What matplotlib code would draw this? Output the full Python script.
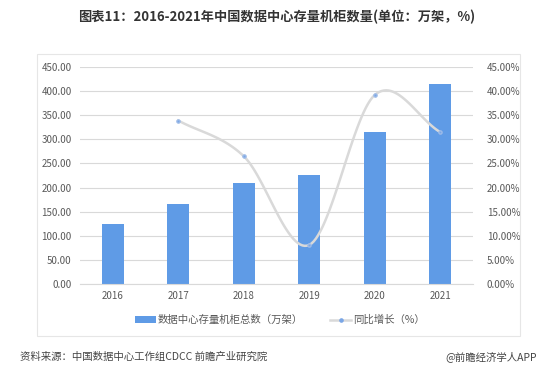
import numpy as np
import matplotlib
matplotlib.use('Agg')
import matplotlib.pyplot as plt
from matplotlib.patches import Rectangle
from matplotlib.lines import Line2D
from matplotlib.patches import Patch

plt.rcParams['font.family'] = ['Noto Sans CJK SC', 'DejaVu Sans']

# data
years = ['2016', '2017', '2018', '2019', '2020', '2021']
cabinets = [124, 166, 210, 227, 315, 415]          # 万架
growth_years = ['2017', '2018', '2019', '2020', '2021']
growth = [33.9, 26.5, 8.1, 39.2, 31.5]            # %

bar_color = '#5f9be6'
line_color = '#d9d9d9'
text_color = '#595959'


def catmull_rom(xs, ys, n=30):
    # Excel-like smoothed line through the points
    xs = np.asarray(xs, float)
    ys = np.asarray(ys, float)
    px = np.concatenate([[2 * xs[0] - xs[1]], xs, [2 * xs[-1] - xs[-2]]])
    py = np.concatenate([[2 * ys[0] - ys[1]], ys, [2 * ys[-1] - ys[-2]]])
    out_x, out_y = [], []
    for i in range(1, len(px) - 2):
        t = np.linspace(0, 1, n)
        for arr, out in ((px, out_x), (py, out_y)):
            p0, p1, p2, p3 = arr[i - 1], arr[i], arr[i + 1], arr[i + 2]
            b1 = p1 + (p2 - p0) / 6
            b2 = p2 - (p3 - p1) / 6
            out.extend((1 - t) ** 3 * p1 + 3 * (1 - t) ** 2 * t * b1
                       + 3 * (1 - t) * t ** 2 * b2 + t ** 3 * p2)
    return np.array(out_x), np.array(out_y)


fig = plt.figure(figsize=(5.54, 3.72), dpi=100)

# panel border
fig.patches.append(Rectangle((37 / 554, 1 - 336 / 372), 483 / 554, 282 / 372,
                             transform=fig.transFigure, fill=False,
                             edgecolor='#e6e6e6', linewidth=0.8))

ax = fig.add_axes([80 / 554, 1 - 284 / 372, 393 / 554, 217 / 372])
x = np.arange(len(years))
ax.bar(x, cabinets, width=0.33, color=bar_color, zorder=2)
ax.set_ylim(0, 450)
ax.set_yticks(np.arange(0, 451, 50))
ax.set_yticklabels(['%.2f' % v for v in np.arange(0, 451, 50)])
ax.set_xlim(-0.5, len(years) - 0.5)
ax.set_xticks(x)
ax.set_xticklabels(years)
ax.grid(axis='y', color='#d9d9d9', linewidth=0.8, zorder=0)
for s in ax.spines.values():
    s.set_visible(False)
ax.spines['bottom'].set_visible(True)
ax.spines['bottom'].set_color('#d9d9d9')
ax.tick_params(axis='both', length=0, labelsize=7, colors=text_color)
ax.tick_params(axis='y', pad=6)
ax.tick_params(axis='x', pad=5)

ax2 = ax.twinx()
ax2.set_ylim(0, 45)
ax2.set_yticks(np.arange(0, 46, 5))
ax2.set_yticklabels(['%.2f%%' % v for v in np.arange(0, 46, 5)])
for s in ax2.spines.values():
    s.set_visible(False)
ax2.tick_params(axis='y', length=0, labelsize=7, colors=text_color, pad=10)

gx = [years.index(y) for y in growth_years]
sx, sy = catmull_rom(gx, growth)
ax2.plot(sx, sy, color=line_color, linewidth=1.8, zorder=3)
ax2.plot(gx, growth, linestyle='none', marker='o', markersize=2.3,
         color='#7aa6e6', markeredgecolor='#9dbbe8', zorder=4)

handles = [Patch(facecolor=bar_color, edgecolor='none'),
           Line2D([0], [0], color=line_color, linewidth=1.8, marker='o',
                  markersize=2.3, markerfacecolor='#7aa6e6',
                  markeredgecolor='#7aa6e6')]
fig.legend(handles, ['数据中心存量机柜总数（万架）', '同比增长（%）'],
           loc='center', bbox_to_anchor=(280 / 554, 1 - 320 / 372), ncol=2,
           frameon=False, fontsize=7.5, labelcolor=text_color,
           handlelength=2.0, handleheight=0.6, handletextpad=0.2,
           columnspacing=2.6)

fig.text(277 / 554, 1 - 17 / 372,
         '图表11：2016-2021年中国数据中心存量机柜数量(单位：万架，%)',
         ha='center', va='center', fontsize=9.5, fontweight='bold',
         color='#333333')
fig.text(20 / 554, 1 - 357 / 372, '资料来源：中国数据中心工作组CDCC 前瞻产业研究院',
         ha='left', va='center', fontsize=7.5, color='#444444')
fig.text(537 / 554, 1 - 357 / 372, '@前瞻经济学人APP',
         ha='right', va='center', fontsize=7.5, color='#444444')

fig.savefig('out.png', dpi=100)
